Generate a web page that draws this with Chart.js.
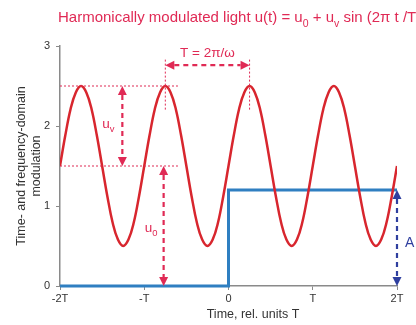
<!DOCTYPE html>
<html>
<head>
<meta charset="utf-8">
<script src="https://cdn.jsdelivr.net/npm/chart.js@4.4.1/dist/chart.umd.min.js"></script>
<style>
  html, body { margin: 0; padding: 0; background: #ffffff; }
  #wrap { width: 416px; height: 325px; position: relative; }
</style>
</head>
<body>
<div id="wrap"><canvas id="chart"></canvas></div>
<script>
// time in units of T, sampled every T/16
const timeValues = [
  -2, -1.9375, -1.875, -1.8125, -1.75, -1.6875, -1.625, -1.5625, -1.5, -1.4375, -1.375, -1.3125, -1.25, -1.1875, -1.125, -1.0625,
  -1, -0.9375, -0.875, -0.8125, -0.75, -0.6875, -0.625, -0.5625, -0.5, -0.4375, -0.375, -0.3125, -0.25, -0.1875, -0.125, -0.0625,
  0, 0.0625, 0.125, 0.1875, 0.25, 0.3125, 0.375, 0.4375, 0.5, 0.5625, 0.625, 0.6875, 0.75, 0.8125, 0.875, 0.9375,
  1, 1.0625, 1.125, 1.1875, 1.25, 1.3125, 1.375, 1.4375, 1.5, 1.5625, 1.625, 1.6875, 1.75, 1.8125, 1.875, 1.9375,
  2
];
// harmonically modulated light u(t)
const lightValues = [
  1.5, 1.88, 2.21, 2.42, 2.5, 2.42, 2.21, 1.88, 1.5, 1.12, 0.79, 0.58, 0.5, 0.58, 0.79, 1.12,
  1.5, 1.88, 2.21, 2.42, 2.5, 2.42, 2.21, 1.88, 1.5, 1.12, 0.79, 0.58, 0.5, 0.58, 0.79, 1.12,
  1.5, 1.88, 2.21, 2.42, 2.5, 2.42, 2.21, 1.88, 1.5, 1.12, 0.79, 0.58, 0.5, 0.58, 0.79, 1.12,
  1.5, 1.88, 2.21, 2.42, 2.5, 2.42, 2.21, 1.88, 1.5, 1.12, 0.79, 0.58, 0.5, 0.58, 0.79, 1.12,
  1.5
];
// step excitation
const stepTimes = [-2, 0, 0, 2];
const stepValues = [0, 0, 1.2, 1.2];

const xTickValues = [-2, -1, 0, 1, 2];
const xTickLabels = ['-2T', '-T', '0', 'T', '2T'];
const yTickValues = [0, 1, 2, 3];

const RED = '#d8262e';
const PINK = '#e02a55';
const BLUE = '#2f7fc1';
const DARKBLUE = '#2f3f9f';
const FONT = '"Liberation Sans", Arial, sans-serif';

function arrowHead(ctx, x, y, dir, color) {
  const L = 9, W = 4.5;
  ctx.save();
  ctx.fillStyle = color;
  ctx.beginPath();
  if (dir === 'up') { ctx.moveTo(x, y); ctx.lineTo(x - W, y + L); ctx.lineTo(x + W, y + L); }
  if (dir === 'down') { ctx.moveTo(x, y); ctx.lineTo(x - W, y - L); ctx.lineTo(x + W, y - L); }
  if (dir === 'left') { ctx.moveTo(x, y); ctx.lineTo(x + L, y - W); ctx.lineTo(x + L, y + W); }
  if (dir === 'right') { ctx.moveTo(x, y); ctx.lineTo(x - L, y - W); ctx.lineTo(x - L, y + W); }
  ctx.closePath();
  ctx.fill();
  ctx.restore();
}

function line(ctx, x1, y1, x2, y2, color, width, dash) {
  ctx.save();
  ctx.strokeStyle = color;
  ctx.lineWidth = width;
  ctx.setLineDash(dash);
  ctx.beginPath();
  ctx.moveTo(x1, y1);
  ctx.lineTo(x2, y2);
  ctx.stroke();
  ctx.restore();
}

function vArrow(ctx, x, yTop, yBot, color) {
  line(ctx, x, yTop + 9, x, yBot - 9, color, 2.2, [5, 4]);
  arrowHead(ctx, x, yTop, 'up', color);
  arrowHead(ctx, x, yBot, 'down', color);
}

// text with subscripts: parts = [[text, isSub], ...]
function richText(ctx, parts, x, y, size, color) {
  ctx.save();
  ctx.fillStyle = color;
  ctx.textBaseline = 'alphabetic';
  ctx.textAlign = 'left';
  let cx = x;
  parts.forEach(([t, sub]) => {
    ctx.font = (sub ? size * 0.7 : size) + 'px ' + FONT;
    ctx.fillText(t, cx, sub ? y + size * 0.3 : y);
    cx += ctx.measureText(t).width;
  });
  ctx.restore();
}

const annotations = {
  id: 'annotations',
  afterDatasetsDraw(chart) {
    const ctx = chart.ctx;
    const xs = chart.scales.x, ys = chart.scales.y;
    const px = v => xs.getPixelForValue(v);
    const py = v => ys.getPixelForValue(v);

    // title
    richText(ctx, [['Harmonically modulated light u(t) = u', false], ['0', true], [' + u', false], ['v', true], [' sin (2\u03c0 t /T)', false]], 58, 22, 15, PINK);

    // x axis title
    ctx.save();
    ctx.fillStyle = '#333333';
    ctx.font = '12.5px ' + FONT;
    ctx.textAlign = 'center';
    ctx.textBaseline = 'middle';
    ctx.fillText('Time, rel. units T', 253, 315);
    ctx.restore();

    // dotted reference levels
    line(ctx, px(-2), py(2.5), px(-0.6), py(2.5), PINK, 1, [2, 2]);
    line(ctx, px(-2), py(1.5), px(-0.6), py(1.5), PINK, 1, [2, 2]);

    // period marker
    line(ctx, px(-0.75), py(2.83), px(-0.75), py(2.2), PINK, 1, [2, 2]);
    line(ctx, px(0.25), py(2.83), px(0.25), py(2.2), PINK, 1, [2, 2]);
    const yT = py(2.76);
    line(ctx, px(-0.75) + 9, yT, px(0.25) - 9, yT, PINK, 2.2, [5, 4]);
    arrowHead(ctx, px(-0.75), yT, 'left', PINK);
    arrowHead(ctx, px(0.25), yT, 'right', PINK);
    ctx.save();
    ctx.fillStyle = PINK;
    ctx.font = '13.5px ' + FONT;
    ctx.textAlign = 'center';
    ctx.fillText('T = 2\u03c0/\u03c9', px(-0.25), 57);
    ctx.restore();

    // amplitude u_v
    vArrow(ctx, px(-1.26), py(2.5), py(1.5), PINK);
    richText(ctx, [['u', false], ['v', true]], px(-1.26) - 20, py(2.0) + 2, 13.5, PINK);

    // offset u_0
    vArrow(ctx, px(-0.77), py(1.5), py(0), PINK);
    richText(ctx, [['u', false], ['0', true]], px(-0.77) - 19, py(0.7) + 2, 13.5, PINK);

    // step amplitude A
    vArrow(ctx, px(2), py(1.2), py(0), DARKBLUE);
    ctx.save();
    ctx.fillStyle = DARKBLUE;
    ctx.font = '14px ' + FONT;
    ctx.fillText('A', px(2) + 8, py(0.55) + 5);
    ctx.restore();
  }
};

new Chart(document.getElementById('chart').getContext('2d'), {
  type: 'line',
  data: {
    datasets: [
      {
        label: 'u(t)',
        data: timeValues.map((t, i) => ({ x: t, y: lightValues[i] })),
        borderColor: RED,
        backgroundColor: 'transparent',
        borderWidth: 2.5,
        pointRadius: 0,
        tension: 0.4,
        fill: false
      },
      {
        label: 'step',
        data: stepTimes.map((t, i) => ({ x: t, y: stepValues[i] })),
        borderColor: BLUE,
        backgroundColor: 'transparent',
        borderWidth: 3,
        pointRadius: 0,
        tension: 0,
        clip: 6,
        fill: false
      }
    ]
  },
  options: {
    responsive: true,
    maintainAspectRatio: false,
    animation: false,
    layout: { padding: { top: 46, right: 19, left: 0, bottom: 0 } },
    scales: {
      x: {
        type: 'linear',
        min: -2,
        max: 2,
        afterFit: s => { s.height = 39; },
        afterBuildTicks: s => { s.ticks = xTickValues.map(v => ({ value: v })); },
        border: { display: true, color: '#8a8a8a', width: 1.5 },
        grid: { display: true, drawOnChartArea: false, drawTicks: true, tickLength: 4, color: '#8a8a8a' },
        ticks: {
          color: '#333333',
          font: { size: 11, family: FONT },
          padding: 2,
          maxRotation: 0,
          callback: v => xTickLabels[xTickValues.indexOf(v)]
        }
      },
      y: {
        type: 'linear',
        min: 0,
        max: 3,
        afterFit: s => { s.width = 60; },
        afterBuildTicks: s => { s.ticks = yTickValues.map(v => ({ value: v })); },
        border: { display: true, color: '#8a8a8a', width: 1.5 },
        grid: { display: true, drawOnChartArea: false, drawTicks: true, tickLength: 4, color: '#8a8a8a' },
        ticks: {
          color: '#333333',
          font: { size: 11, family: FONT },
          padding: 6
        },
        title: {
          display: true,
          text: ['Time- and frequency-domain', 'modulation'],
          color: '#333333',
          font: { size: 12.5, family: FONT, lineHeight: 1.2 },
          padding: { top: 14.5, bottom: 0 }
        }
      }
    },
    plugins: {
      legend: { display: false },
      tooltip: { enabled: false }
    }
  },
  plugins: [annotations]
});
</script>
</body>
</html>
